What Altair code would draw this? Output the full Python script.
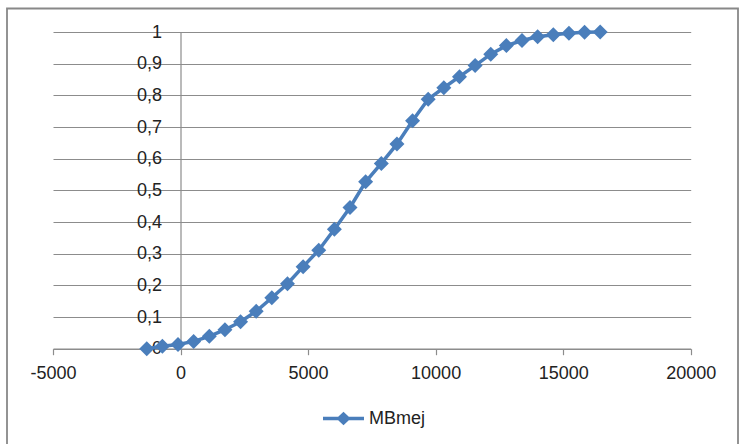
import altair as alt
import pandas as pd

series_name = "MBmej"
x_values = [-1325, -712, -99, 514, 1127, 1740, 2353, 2966, 3579, 4192,
            4805, 5418, 6031, 6644, 7257, 7870, 8483, 9096, 9709, 10322,
            10935, 11548, 12161, 12774, 13387, 14000, 14613, 15226, 15839, 16452]
y_values = [0.0, 0.008, 0.013, 0.023, 0.039, 0.060, 0.085, 0.118, 0.161, 0.205,
            0.259, 0.311, 0.377, 0.446, 0.527, 0.585, 0.646, 0.720, 0.788, 0.824,
            0.859, 0.894, 0.930, 0.957, 0.973, 0.985, 0.991, 0.996, 0.999, 1.0]
x_ticks = [-5000, 0, 5000, 10000, 15000, 20000]
y_ticks = [0, 0.1, 0.2, 0.3, 0.4, 0.5, 0.6, 0.7, 0.8, 0.9, 1.0]

df = pd.DataFrame({"x": x_values, "y": y_values, "series": [series_name] * len(x_values)})

BLUE = "#4a7ebb"
GRID = "#8c8c8c"
FONT = "Liberation Sans"
W, H = 637.7, 316.7

xscale = alt.Scale(domain=[-5000, 20000], nice=False, zero=False)
yscale = alt.Scale(domain=[0, 1], nice=False)

legend_symbol = ("M-1,-0.085 L1,-0.085 L1,0.085 L-1,0.085 Z "
                 "M0,-0.33 L0.35,0 L0,0.33 L-0.35,0 Z")

x_enc = alt.X("x:Q", scale=xscale,
              axis=alt.Axis(values=x_ticks, title=None, grid=False,
                            labelExpr="'' + datum.value",
                            domainColor=GRID, domainWidth=1.2,
                            tickColor=GRID, tickSize=6, tickWidth=1.2,
                            labelFont=FONT, labelFontSize=18, labelColor="#222222",
                            labelPadding=10, labelFlush=False, labelOverlap=False))
y_enc = alt.Y("y:Q", scale=yscale,
              axis=alt.Axis(values=y_ticks, title=None, grid=True,
                            gridColor=GRID, gridWidth=1.2,
                            domainColor=GRID, domainWidth=1.2,
                            offset=-127.5, ticks=False,
                            labelFont=FONT, labelFontSize=18, labelColor="#222222",
                            labelPadding=19, labelFlush=False, labelOverlap=False,
                            labelExpr="replace(format(datum.value, '.1~f'), '.', ',')"))

color_enc = alt.Color("series:N",
                      scale=alt.Scale(domain=[series_name], range=[BLUE]),
                      legend=alt.Legend(title=None, orient="none",
                                        legendX=270, legendY=366,
                                        symbolType=legend_symbol, symbolSize=1681,
                                        symbolStrokeWidth=0, symbolFillColor=BLUE,
                                        labelFont=FONT, labelFontSize=18,
                                        labelColor="#222222", labelOffset=5,
                                        padding=0))

line = alt.Chart(df).mark_line(strokeWidth=3.5, clip=False).encode(
    x=x_enc, y=y_enc, color=color_enc)
points = alt.Chart(df).mark_point(shape="diamond", filled=True, size=225,
                                  opacity=1, clip=False).encode(
    x=x_enc, y=y_enc, color=color_enc)

border = alt.Chart(pd.DataFrame({"a": [0]})).mark_rect(
    fill=None, stroke="#888888", strokeWidth=1.8, clip=False).encode(
    x=alt.value(-46), x2=alt.value(685), y=alt.value(-23.5), y2=alt.value(430))

chart = alt.layer(border, line, points).properties(
    width=W, height=H,
    padding={"left": 53, "top": 32, "right": 739 - 53 - W, "bottom": 444 - 32 - H},
    autosize=alt.AutoSizeParams(type="none"),
    background="white",
).configure_view(stroke=None)

chart.save("out.html", embed_options={"renderer": "svg", "actions": False})
